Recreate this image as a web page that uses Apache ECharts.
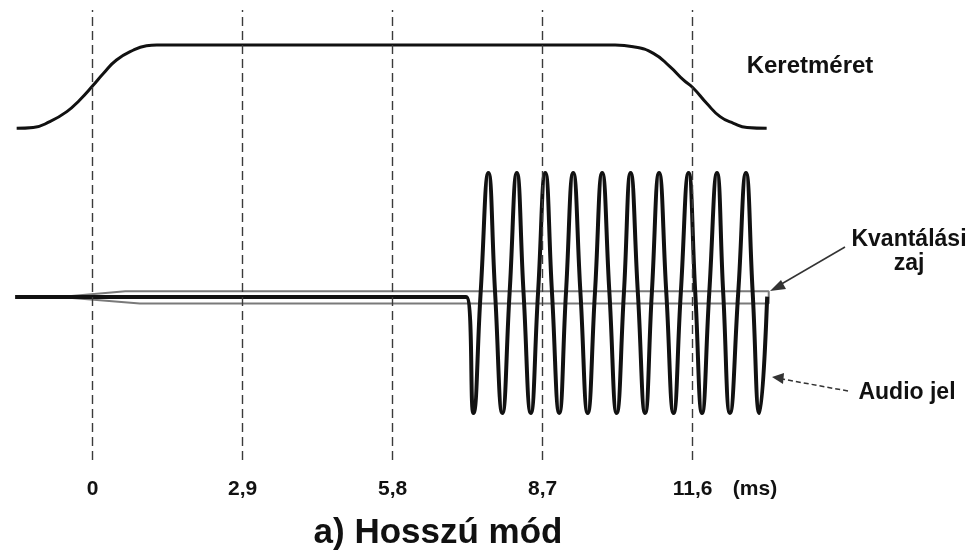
<!DOCTYPE html>
<html>
<head>
<meta charset="utf-8">
<script src="https://cdn.jsdelivr.net/npm/echarts@6/dist/echarts.min.js"></script>
<style>
  html, body { margin: 0; padding: 0; background: #fff; }
  #c { width: 972px; height: 555px; }
</style>
</head>
<body>
<div id="c"></div>
<script>
// Time grid (ms) and its labels
const gridTimes = [0, 2.9, 5.8, 8.7, 11.6];
const tickLabels = ['0', '2,9', '5,8', '8,7', '11,6'];

// Keretméret: normalised frame size over time (ms)
const frameTime = [-1.47, -1.15, -0.83, -0.50, -0.25, 0, 0.21, 0.46, 0.79, 1.04, 1.24, 1.6,
                   10.1, 10.45, 10.84, 11.16, 11.42, 11.60, 11.87, 12.13, 12.39, 12.65, 13.03];
const frameSize = [0, 0.01, 0.08, 0.20, 0.34, 0.51, 0.66, 0.82, 0.94, 0.99, 1, 1,
                   1, 0.98, 0.90, 0.74, 0.58, 0.49, 0.30, 0.14, 0.06, 0.01, 0];

// Audio jel: silence, then the tone burst (extrema and zero crossings)
const audioTime = [-1.5, 7.22, 7.36, 7.50, 7.65, 7.78, 7.92, 8.06, 8.20, 8.33, 8.47, 8.61,
                   8.75, 8.88, 9.02, 9.15, 9.29, 9.43, 9.57, 9.71, 9.85, 9.99, 10.13, 10.27,
                   10.40, 10.54, 10.68, 10.81, 10.95, 11.09, 11.23, 11.37, 11.52, 11.65, 11.78,
                   11.92, 12.07, 12.19, 12.32, 12.48, 12.63, 12.76, 12.89, 13.04];
const audioLevel = [-0.033, -0.033, -1, 0, 1, 0, -1, 0, 1, 0, -1, 0,
                    1, 0, -1, 0, 1, 0, -1, 0, 1, 0, -1, 0,
                    1, 0, -1, 0, 1, 0, -1, 0, 1, 0, -1,
                    0, 1, 0, -1, 0, 1, 0, -1, -0.03];

// Kvantálási zaj: noise band outline
const noiseTime = [-0.63, 0.63, 13.07, 13.07, 0.91, -0.63];
const noiseLevel = [-0.033, 0.015, 0.015, -0.088, -0.088, -0.033];

const zip = (a, b) => a.map((v, i) => [v, b[i]]);

const chart = echarts.init(document.getElementById('c'), null, { renderer: 'canvas' });

const ink = '#111';
const font = 'Liberation Sans, Arial, sans-serif';

chart.setOption({
  animation: false,
  backgroundColor: '#fff',
  grid: { left: 9.94, right: 186.2, top: 10, bottom: 95 },
  xAxis: {
    type: 'value', min: -1.6, max: 13.4,
    axisLine: { show: false }, axisTick: { show: false }, splitLine: { show: false },
    axisLabel: {
      customValues: gridTimes,
      formatter: v => { const i = gridTimes.findIndex(g => Math.abs(g - v) < 1e-6); return i >= 0 ? tickLabels[i] : ''; },
      fontSize: 21, fontWeight: 'bold', color: ink, fontFamily: font, margin: 19
    }
  },
  yAxis: [
    { type: 'value', min: -1.3917, max: 2.3583, show: false },
    { type: 'value', min: -3.982, max: 1.42, show: false }
  ],
  series: [
    {
      name: 'Keretméret', type: 'line', yAxisIndex: 1, data: zip(frameTime, frameSize),
      smooth: 0.5, symbol: 'none', clip: false,
      lineStyle: { color: ink, width: 3 },
      markLine: {
        silent: true, symbol: ['none', 'none'],
        label: { show: false },
        lineStyle: { color: '#3a3a3a', width: 1.4, type: [9, 5] },
        data: gridTimes.map(t => ({ xAxis: t }))
      }
    },
    {
      name: 'Kvantálási zaj', type: 'line', yAxisIndex: 0, data: zip(noiseTime, noiseLevel),
      symbol: 'none', clip: false,
      lineStyle: { color: '#7a7a7a', width: 2 }
    },
    {
      name: 'Audio jel', type: 'line', yAxisIndex: 0, data: zip(audioTime, audioLevel),
      smooth: 0.5, symbol: 'none', clip: false,
      lineStyle: { color: ink, width: 4 }
    }
  ],
  graphic: [
    { type: 'text', x: 810, y: 66, style: { text: 'Keretméret', font: 'bold 24px ' + font, fill: ink, align: 'center', verticalAlign: 'middle' } },
    { type: 'text', x: 909, y: 240, style: { text: 'Kvantálási', font: 'bold 23px ' + font, fill: ink, align: 'center', verticalAlign: 'middle' } },
    { type: 'text', x: 909, y: 264, style: { text: 'zaj', font: 'bold 23px ' + font, fill: ink, align: 'center', verticalAlign: 'middle' } },
    { type: 'text', x: 907, y: 393, style: { text: 'Audio jel', font: 'bold 23px ' + font, fill: ink, align: 'center', verticalAlign: 'middle' } },
    { type: 'text', x: 755, y: 489, style: { text: '(ms)', font: 'bold 21px ' + font, fill: ink, align: 'center', verticalAlign: 'middle' } },
    { type: 'text', x: 438, y: 533, style: { text: 'a) Hosszú mód', font: 'bold 35px ' + font, fill: ink, align: 'center', verticalAlign: 'middle' } },
    // arrow to the noise band
    { type: 'line', shape: { x1: 845, y1: 247, x2: 778, y2: 286 }, style: { stroke: '#333', lineWidth: 1.5 } },
    { type: 'polygon', shape: { points: [[770, 291], [781, 280], [786, 289]] }, style: { fill: '#333' } },
    // dashed arrow to the audio signal
    { type: 'line', shape: { x1: 848, y1: 391, x2: 782, y2: 379 }, style: { stroke: '#333', lineWidth: 1.5, lineDash: [5, 3] } },
    { type: 'polygon', shape: { points: [[772, 377], [784, 373], [783, 384]] }, style: { fill: '#333' } }
  ]
});
</script>
</body>
</html>
